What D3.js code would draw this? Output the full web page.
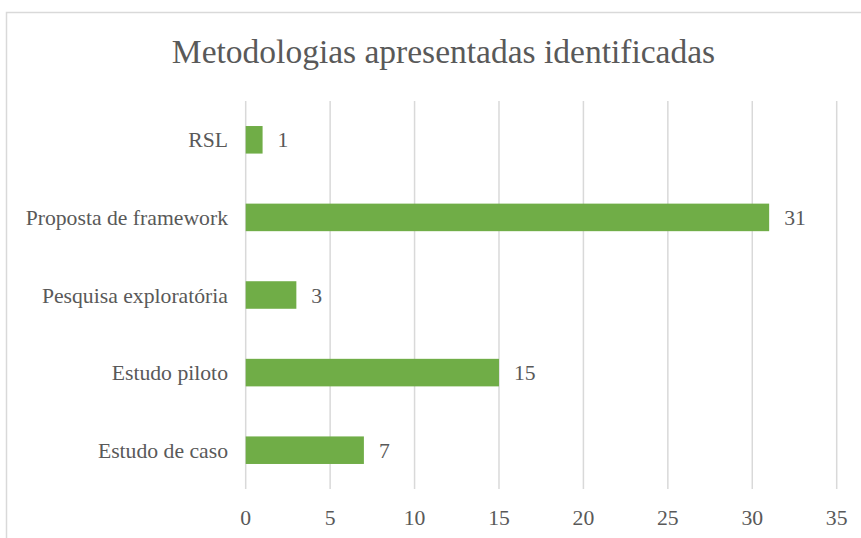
<!DOCTYPE html>
<html>
<head>
<meta charset="utf-8">
<script src="https://cdn.jsdelivr.net/npm/d3@7"></script>
<style>
  body { margin: 0; background: #fff; }
</style>
</head>
<body>
<script>
// data
let categories = ["RSL", "Proposta de framework", "Pesquisa exploratória", "Estudo piloto", "Estudo de caso"];
let counts = [1, 31, 3, 15, 7];
let ticks = [0, 5, 10, 15, 20, 25, 30, 35];

var width = 861,
    height = 538;

var serif = "'Liberation Serif'";

let svg = d3.select("body").append("svg")
    .attr("width", width)
    .attr("height", height);

// chart frame (runs off the right and bottom edge)
svg.append("rect")
    .attr("x", 6.5).attr("y", 12.5)
    .attr("width", 900).attr("height", 600)
    .attr("fill", "none")
    .attr("stroke", "#d9d9d9")
    .attr("stroke-width", 1.5);

svg.append("text")
    .attr("x", 443.5).attr("y", 63)
    .attr("text-anchor", "middle")
    .attr("font-family", serif)
    .attr("fill", "#595959")
    .attr("font-size", 33.5)
    .text("Metodologias apresentadas identificadas");

var x = d3.scaleLinear()
    .domain([0, 35])
    .range([245.7, 836.7]);

var y = d3.scaleBand()
    .domain(categories)
    .range([101, 489])
    .paddingInner(0.645)
    .paddingOuter(0.3225);

// vertical gridlines
svg.selectAll(".grid")
    .data(ticks)
    .enter()
    .append("line")
    .attr("x1", d => x(d)).attr("x2", d => x(d))
    .attr("y1", 101).attr("y2", 489)
    .attr("stroke", "#d9d9d9")
    .attr("stroke-width", 1.5);

// x tick labels
svg.selectAll(".tick")
    .data(ticks)
    .enter()
    .append("text")
    .attr("x", d => x(d))
    .attr("y", 525)
    .attr("text-anchor", "middle")
    .attr("font-family", serif)
    .attr("fill", "#595959")
    .attr("font-size", 21.7)
    .text(d => d);

// bars
svg.selectAll(".bar")
    .data(categories)
    .enter()
    .append("rect")
    .attr("x", x(0))
    .attr("y", d => y(d))
    .attr("width", (d, i) => x(counts[i]) - x(0))
    .attr("height", y.bandwidth())
    .attr("fill", "#70ad47");

// category labels
svg.selectAll(".cat")
    .data(categories)
    .enter()
    .append("text")
    .attr("x", 228)
    .attr("y", d => y(d) + y.bandwidth() / 2 + 7.5)
    .attr("text-anchor", "end")
    .attr("font-family", serif)
    .attr("fill", "#595959")
    .attr("font-size", 21.7)
    .text(d => d);

// value labels
svg.selectAll(".val")
    .data(categories)
    .enter()
    .append("text")
    .attr("x", (d, i) => x(counts[i]) + 15)
    .attr("y", d => y(d) + y.bandwidth() / 2 + 7.5)
    .attr("font-family", serif)
    .attr("fill", "#595959")
    .attr("font-size", 21.7)
    .text((d, i) => counts[i]);
</script>
</body>
</html>
